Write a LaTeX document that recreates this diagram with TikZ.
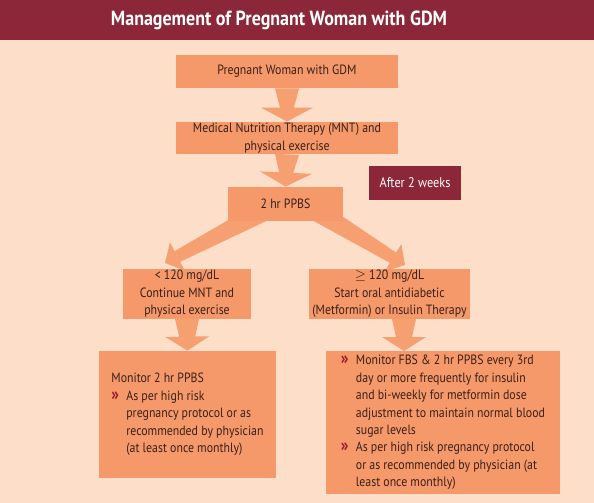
\documentclass[tikz,border=0pt]{standalone}
\usepackage{xcolor}
\usepackage{fontspec}
\setmainfont{PT Sans}[FakeStretch=0.88]
\usepackage{tikz}
\usetikzlibrary{calc}
\usetikzlibrary{backgrounds}

\definecolor{pagepeach}{HTML}{FCDEC9}
\definecolor{boxorange}{HTML}{F5996A}
\definecolor{arroworange}{HTML}{F6A072}
\definecolor{maroon}{HTML}{8C2739}
\definecolor{inkbrown}{HTML}{3A1F1A}
\definecolor{chevronred}{HTML}{9E1C2E}

\newcommand{\chev}{\makebox[15pt][l]{\textcolor{chevronred}{\bfseries\fontsize{18}{16}\selectfont »}}}
\newcommand{\indt}{\hspace*{15pt}}

% fat arrow: from, to, tail half width, neck half width, head half width
\newcommand{\fatarrow}[5]{%
	\coordinate (neck) at ($(#2)!14bp!(#1)$);
	\fill[arroworange] ($(#1)!#3!90:(#2)$) -- ($(neck)!#4!90:(#2)$) -- ($(neck)!#5!90:(#2)$) -- (#2)
	-- ($(neck)!#5!-90:(#2)$) -- ($(neck)!#4!-90:(#2)$) -- ($(#1)!#3!-90:(#2)$) -- cycle;
}

\begin{document}
\begin{tikzpicture}[x=1bp,y=-1bp,thick]
			
			\tikzstyle{box} = [fill=boxorange,text=inkbrown,inner sep=0pt,align=center,font=\fontsize{13.5}{17.5}\selectfont]
			\tikzstyle{tag} = [fill=maroon,text=white,inner sep=0pt,font=\fontsize{14}{16}\selectfont]
			
			\useasboundingbox (0,0) rectangle (594,503);
			
			\fill[maroon] (0,0) rectangle (594,40);
			\node[text=white,font=\bfseries\fontsize{20.5}{22}\selectfont] (title) at (279,20) {Management of Pregnant Woman with GDM};
			
			\node[box,minimum width=222bp,minimum height=33bp] (pw) at (287,71.5) {Pregnant Woman with GDM};
			\node[box,minimum width=222bp,minimum height=32bp] (mnt) at (287,138) {Medical Nutrition Therapy (MNT) and\\physical exercise};
			\node[box,minimum width=115bp,minimum height=34bp] (ppbs) at (285.5,204) {2 hr PPBS};
			\node[tag,minimum width=92bp,minimum height=34bp] (weeks) at (415,183) {After 2 weeks};
			
			\node[box,minimum width=128bp,minimum height=50bp] (low) at (187,294) {< 120 mg/dL\\Continue MNT and\\physical exercise};
			\node[box,minimum width=161bp,minimum height=50bp] (high) at (389.5,294) {$\geq$ 120 mg/dL\\Start oral antidiabetic\\(Metformin) or Insulin Therapy};
			
			\node[box,align=left,minimum width=177bp,minimum height=127bp] (mon1) at (187.5,414.5) {Monitor 2 hr PPBS\\
				\chev As per high risk\\\indt pregnancy protocol or as\\\indt recommended by physician\\\indt (at least once monthly)};
			\node[box,align=left,minimum width=234bp,minimum height=143bp] (mon2) at (443,422.5) {\chev Monitor FBS \& 2 hr PPBS every 3rd\\
				\indt day or more frequently for insulin\\\indt and bi-weekly for metformin dose\\\indt adjustment to maintain normal blood\\\indt sugar levels\\
				\chev As per high risk pregnancy protocol\\\indt or as recommended by physician (at\\\indt least once monthly)};
			
			\coordinate (ls) at (262,212);
			\coordinate (lt) at (165,263);
			\coordinate (rs) at (318,212);
			\coordinate (rt) at (405,265);
			\coordinate (lowout) at (187,319);
			\coordinate (highout) at (404,319);
			\coordinate (mon2in) at (404,351);
			
			\begin{scope}[on background layer]
				\fill[pagepeach] (0,0) rectangle (594,503);
				\fatarrow{pw.south}{mnt.north}{12bp}{7bp}{26bp}
				\fatarrow{mnt.south}{ppbs.north}{12bp}{7bp}{26bp}
				\fatarrow{ls}{lt}{10bp}{6bp}{16bp}
				\fatarrow{rs}{rt}{10bp}{6bp}{16bp}
				\fatarrow{lowout}{mon1.north}{12bp}{8bp}{22bp}
				\fatarrow{highout}{mon2in}{12bp}{8bp}{22bp}
			\end{scope}
			
		\end{tikzpicture}
\end{document}
